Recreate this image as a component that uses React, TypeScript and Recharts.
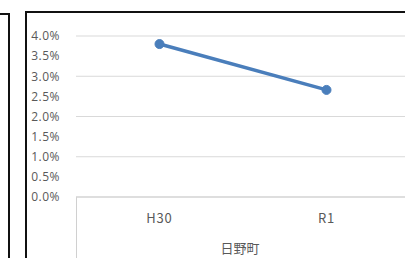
import { LineChart, Line, XAxis, YAxis, CartesianGrid } from "recharts"

const years = ["H30", "R1"]
const rates = [3.8, 2.66]
const yTicks = [0, 0.5, 1, 1.5, 2, 2.5, 3, 3.5, 4]
const groupLabel = "日野町"

const data = years.map((y, i) => ({ year: y, rate: rates[i] }))

const W = 430
const H = 280
const M = { top: 36, right: 20, bottom: 0, left: 26 }
const Y_W = 50
const PLOT_LEFT = M.left + Y_W
const PLOT_BOTTOM = 197
// half a category band, so points sit in the middle of their category
const HALF_BAND = (W - M.left - M.right - Y_W) / years.length / 2

export default function App() {
    return (
        <div style={{ position: "absolute", left: 0, top: 0, width: 405, height: 258, overflow: "hidden", background: "#fff" }}>
            {/* box of the chart to the left */}
            <div style={{ position: "absolute", left: -100, top: 13, width: 108, height: 300, borderTop: "2px solid #111", borderRight: "2px solid #111" }} />
            {/* box of this chart */}
            <div style={{ position: "absolute", left: 25, top: 11, width: 500, height: 300, borderTop: "2px solid #111", borderLeft: "2px solid #111" }} />
            {/* category group divider */}
            <div style={{ position: "absolute", left: PLOT_LEFT, top: PLOT_BOTTOM, width: 1, height: 80, background: "#d0d0d0" }} />
            <div style={{ position: "absolute", left: 0, top: 0 }}>
                <LineChart width={W} height={H} data={data} margin={M}>
                    <CartesianGrid vertical={false} stroke="#d9d9d9" />
                    <XAxis
                        dataKey="year"
                        height={H - PLOT_BOTTOM - M.bottom}
                        padding={{ left: HALF_BAND, right: HALF_BAND }}
                        tickLine={false}
                        tickSize={0}
                        tickMargin={17}
                        stroke="#d0d0d0"
                        tick={{ fill: "#595959", fontSize: 13, fontFamily: "'Noto Sans CJK JP', sans-serif", letterSpacing: 0.8 }}
                        label={{ value: groupLabel, position: "insideBottom", offset: 27, dx: -3, fill: "#595959", fontSize: 13, fontFamily: "'Noto Sans CJK JP', sans-serif" }}
                    />
                    <YAxis
                        width={Y_W}
                        domain={[0, 4]}
                        ticks={yTicks}
                        tickFormatter={(v: number) => v.toFixed(1) + "%"}
                        axisLine={false}
                        tickLine={false}
                        tickSize={0}
                        tickMargin={16}
                        tick={{ fill: "#595959", fontSize: 12, fontFamily: "'Open Sans', sans-serif", letterSpacing: 0.5 }}
                    />
                    <Line
                        dataKey="rate"
                        stroke="#4a7ebb"
                        strokeWidth={3.5}
                        dot={{ r: 4.5, fill: "#4a7ebb", stroke: "#4a7ebb", strokeWidth: 1 }}
                        isAnimationActive={false}
                    />
                </LineChart>
            </div>
        </div>
    )
}
